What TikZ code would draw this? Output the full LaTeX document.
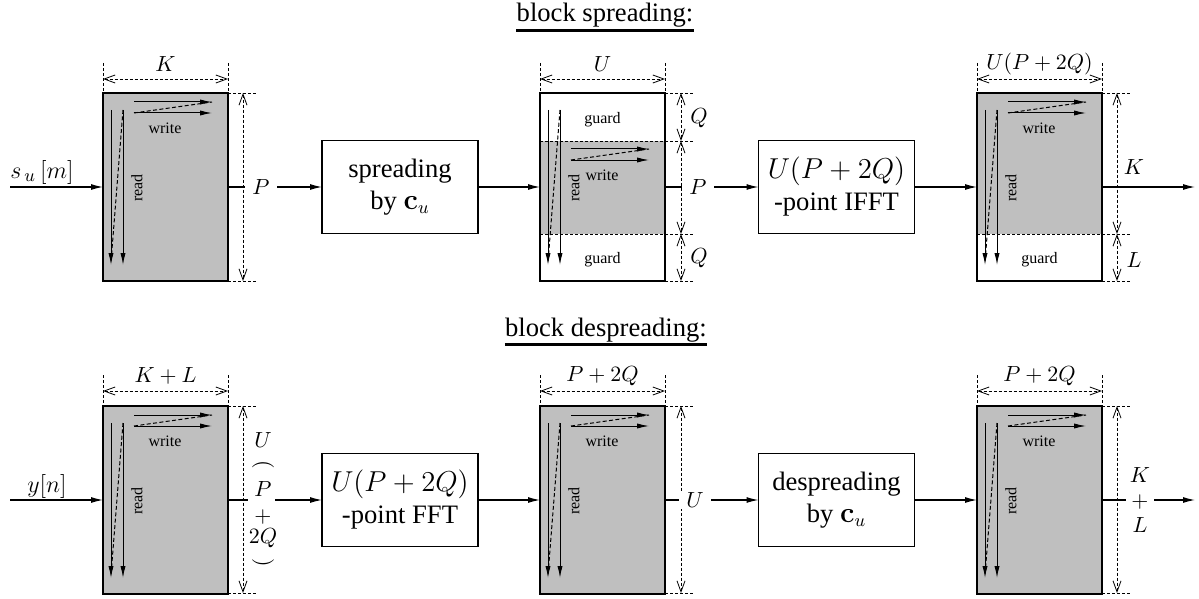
\documentclass[tikz,border=0pt]{standalone}
\usepackage[no-math]{fontspec}
\setmainfont{Liberation Serif}
\usetikzlibrary{arrows.meta}
\definecolor{bufgray}{gray}{0.75}
\tikzset{
  ln/.style={line width=0.55pt, draw=black},
  sig/.style={ln, -{Latex[length=6pt,width=3pt]}},
  inarr/.style={line width=0.5pt, -{Latex[length=6pt,width=2.6pt]}},
  dl/.style={line width=0.5pt, dash pattern=on 2pt off 1.2pt},
  ext/.style={line width=0.4pt, dash pattern=on 1.5pt off 1pt},
  dimarr/.style={ext, {Straight Barb[length=5.5pt,width=4pt]}-{Straight Barb[length=5.5pt,width=4pt]}},
  buf/.style={draw, line width=0.55pt, minimum width=62.5pt, minimum height=94pt, inner sep=0pt, outer sep=0pt},
  proc/.style={draw, line width=0.55pt, minimum width=78pt, minimum height=46.5pt, inner sep=0pt, outer sep=0pt, align=center, font=\fontsize{13.3}{16}\selectfont},
  lab/.style={inner sep=1pt, font=\fontsize{10.5}{12.6}\selectfont},
  onl/.style={lab, fill=white, inner xsep=3.5pt, inner ysep=1pt},
  small/.style={inner sep=0pt, font=\fontsize{8}{9.6}\selectfont},
  ttl/.style={inner sep=0pt, anchor=base, font=\fontsize{13.3}{16}\selectfont},
  pics/rw/.style={code={
    \draw[inarr] (8,17) -- (8,172);
    \draw[inarr] (20,17) -- (20,172);
    \draw[dl] (20,17) -- (8,169);
    \draw[inarr] (31,9+#1) -- (109,9+#1);
    \draw[inarr] (31,20+#1) -- (109,20+#1);
    \draw[dl] (31,20+#1) -- (109,9+#1);
    \node[small] (-w) at (62,35+#1) {write};
    \node[small, rotate=90] (-r) at (34,95) {read};
  }},
}
\begin{document}
\begin{tikzpicture}[x=0.5pt,y=-0.5pt]
\useasboundingbox (0,0) rectangle (1199,599);

% titles
\node[ttl] (t1) at (605,22) {block spreading:};
\draw[line width=1.4pt] ([yshift=-1.3pt]t1.south west) -- ([yshift=-1.3pt]t1.south east);
\node[ttl] (t2) at (606,336) {block despreading:};
\draw[line width=1.4pt] ([yshift=-1.3pt]t2.south west) -- ([yshift=-1.3pt]t2.south east);

% buffers, top row
\node[buf, fill=bufgray] (b1) at (165.5,187) {};
\fill[bufgray] (540,141) rectangle (665,234);
\node[buf] (b2) at (602.5,187) {};
\fill[bufgray] (977,93) rectangle (1102,234);
\node[buf] (b3) at (1039.5,187) {};
% buffers, bottom row
\node[buf, fill=bufgray] (b4) at (165.5,500) {};
\node[buf, fill=bufgray] (b5) at (602.5,500) {};
\node[buf, fill=bufgray] (b6) at (1039.5,500) {};

% processing boxes
\node[proc] (sp) at (400,187) {spreading\\by $\mathbf{c}_u$};
\node[proc] (ifft) at (836.5,187) {$U(P+2Q)$\\-point IFFT};
\node[proc] (fft) at (400,500) {$U(P+2Q)$\\-point FFT};
\node[proc] (desp) at (836.5,500) {despreading\\by $\mathbf{c}_u$};

% read / write marks
\pic (r1) at (103,93) {rw=0};
\pic (r2) at (540,93) {rw=47};
\pic (r3) at (977,93) {rw=0};
\pic (r4) at (103,406) {rw=0};
\pic (r5) at (540,406) {rw=0};
\pic (r6) at (977,406) {rw=0};

\node[small] (g2a) at (602.5,120) {guard};
\node[small] (g2b) at (602.5,260) {guard};
\node[small] (g3) at (1039.5,260) {guard};

% ---- dimensions, top row
\draw[ext] (103,63) -- (103,93) (228,63) -- (228,93);
\draw[dimarr] (103,79) -- (228,79);
\node[lab] (d1) at (165.5,64) {$K$};
\draw[ext] (228,93) -- (256,93) (228,281) -- (256,281);
\draw[dimarr] (243,93) -- (243,281);

\draw[ext] (540,63) -- (540,93) (665,63) -- (665,93);
\draw[dimarr] (540,79) -- (665,79);
\node[lab] (d2) at (602.5,64) {$U$};
\draw[ext] (665,93) -- (693,93) (540,141) -- (693,141) (540,234) -- (693,234) (665,281) -- (693,281);
\draw[dimarr] (681,93) -- (681,141);
\draw[dimarr] (681,141) -- (681,234);
\draw[dimarr] (681,234) -- (681,281);
\node[lab] (q2a) at (699,118) {$Q$};
\node[lab] (q2b) at (699,258) {$Q$};

\draw[ext] (977,63) -- (977,93) (1102,63) -- (1102,93);
\draw[dimarr] (977,79) -- (1102,79);
\node[lab] (d3) at (1039.5,64) {$U(P+2Q)$};
\draw[ext] (1102,93) -- (1130,93) (977,234) -- (1130,234) (1102,281) -- (1130,281);
\draw[dimarr] (1117,93) -- (1117,234);
\draw[dimarr] (1117,234) -- (1117,281);
\node[lab] (k3) at (1134,167) {$K$};
\node[lab] (l3) at (1134,260) {$L$};

% ---- dimensions, bottom row
\draw[ext] (103,375) -- (103,406) (228,375) -- (228,406);
\draw[dimarr] (103,391) -- (228,391);
\node[lab] (d4) at (165.5,376) {$K+L$};
\draw[ext] (228,406) -- (256,406) (228,593) -- (256,593);
\draw[dimarr] (243,406) -- (243,593);

\draw[ext] (540,375) -- (540,406) (665,375) -- (665,406);
\draw[dimarr] (540,391) -- (665,391);
\node[lab] (d5) at (602.5,376) {$P+2Q$};
\draw[ext] (665,406) -- (693,406) (665,593) -- (693,593);
\draw[dimarr] (681,406) -- (681,593);

\draw[ext] (977,375) -- (977,406) (1102,375) -- (1102,406);
\draw[dimarr] (977,391) -- (1102,391);
\node[lab] (d6) at (1039.5,376) {$P+2Q$};
\draw[ext] (1102,406) -- (1130,406) (1102,593) -- (1130,593);
\draw[dimarr] (1117,406) -- (1117,593);

% ---- signal connectors, top row
\coordinate (in1) at (10,187);
\draw[sig] (in1) -- (b1.west);
\node[lab, font=\fontsize{12.5}{15}\selectfont] (su) at (42,172) {$s_{\,u}\,[m]$};
\draw[sig] (b1.east) -- (sp.west);
\node[onl] (p1) at (261,187) {$P$};
\draw[sig] (sp.east) -- (b2.west);
\draw[sig] (b2.east) -- (ifft.west);
\node[onl] (p2) at (698,187) {$P$};
\draw[sig] (ifft.east) -- (b3.west);
\coordinate (out1) at (1195,187);
\draw[sig] (b3.east) -- (out1);

% ---- signal connectors, bottom row
\coordinate (in2) at (10,500);
\draw[sig] (in2) -- (b4.west);
\node[lab, font=\fontsize{11.5}{14}\selectfont] (yn) at (47,486) {$y[n]$};
\coordinate (g4a) at (248,500);
\coordinate (g4b) at (275,500);
\draw[ln] (b4.east) -- (g4a);
\draw[sig] (g4b) -- (fft.west);
\node[lab] (s4u) at (263,440) {$U$};
\node[lab, rotate=-90] (s4o) at (263,465) {$($};
\node[lab] (s4p) at (263,489) {$P$};
\node[lab] (s4a) at (263,517) {$+$};
\node[lab] (s4q) at (263,538) {$2Q$};
\node[lab, rotate=-90] (s4c) at (263,563) {$)$};
\draw[sig] (fft.east) -- (b5.west);
\draw[sig] (b5.east) -- (desp.west);
\node[onl] (u5) at (695,500) {$U$};
\draw[sig] (desp.east) -- (b6.west);
\coordinate (out2) at (1195,500);
\draw[sig] (b6.east) -- (out2);
\node[onl, align=center, inner xsep=2pt] (kl6) at (1140,500) {$K$\\$+$\\$L$};
\end{tikzpicture}
\end{document}
